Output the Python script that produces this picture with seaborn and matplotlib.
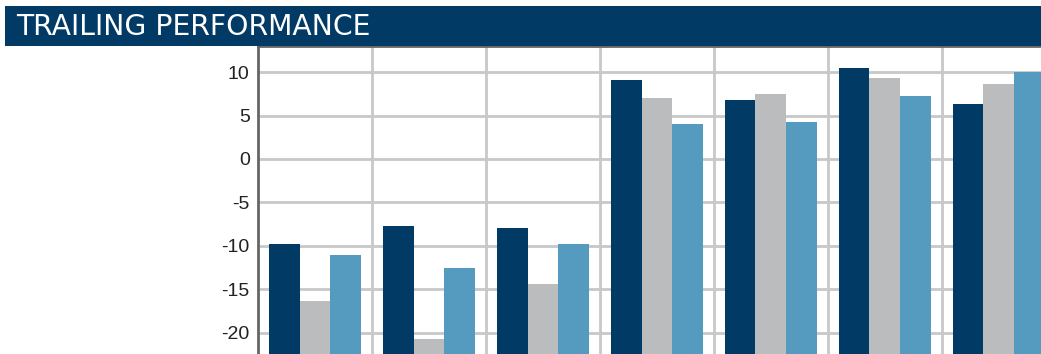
import numpy as np
import pandas as pd
import matplotlib
matplotlib.use("Agg")
import matplotlib.pyplot as plt
from matplotlib.patches import Rectangle
import seaborn as sns

# Trailing return periods and the three compared series (%)
periods = ["1 Month", "3 Month", "YTD", "1 Year", "3 Year", "5 Year", "10 Year"]
series = ["Fund", "Benchmark", "Category"]
fund = [-9.8, -7.7, -8.0, 9.1, 6.8, 10.5, 6.35]
benchmark = [-16.3, -20.7, -14.4, 7.0, 7.5, 9.35, 8.65]
category = [-11.0, -12.6, -9.8, 4.0, 4.3, 7.27, 10.04]
yticks = [10, 5, 0, -5, -10, -15, -20]

colors = ["#023a66", "#bbbcbe", "#559bc0"]

df = pd.DataFrame({
    "period": periods * 3,
    "series": [s for s in series for _ in periods],
    "value": fund + benchmark + category,
})

sns.set_theme(style="white")
plt.rcParams["font.family"] = ["Liberation Sans", "DejaVu Sans"]

fig = plt.figure(figsize=(10.41, 3.54), dpi=100)

# Header band
fig.patches.append(Rectangle((5 / 1041, 1 - 45.7 / 354), 1.0, 39.7 / 354,
                             transform=fig.transFigure, facecolor="#023a66",
                             edgecolor="none", zorder=0))
fig.text(16 / 1041, 1 - 27 / 354, "TRAILING PERFORMANCE", color="white",
         fontsize=20.3, family=["DejaVu Sans"], va="center", ha="left")

ax = fig.add_axes([258 / 1041, 0.0, 1 - 258 / 1041, (354 - 46) / 354])
sns.barplot(data=df, x="period", y="value", hue="series", palette=colors,
            width=0.81, gap=0, saturation=1, legend=False, ax=ax,
            linewidth=0, edgecolor="none", zorder=3)

ymin, ymax = -22.45, 13.0
# Bars rise from a floor below the visible range rather than from zero
floor = -40
for bar in ax.patches:
    top = bar.get_y() + bar.get_height()
    bar.set_y(floor)
    bar.set_height(top - floor)

ax.set_xlim(-0.5, 6.37)
ax.set_ylim(ymin, ymax)
ax.set_yticks(yticks)
ax.set_yticklabels([str(v) for v in yticks])
ax.set_xticks(np.arange(len(periods) - 1) + 0.5, minor=True)
ax.tick_params(axis="y", length=0, pad=6, labelsize=14, labelcolor="#222222")
ax.tick_params(axis="x", which="both", length=0, labelbottom=False)
ax.set_xlabel("")
ax.set_ylabel("")

ax.grid(axis="y", which="major", color="#c8c8c8", linewidth=2, zorder=0)
ax.grid(axis="x", which="minor", color="#c8c8c8", linewidth=2, zorder=0)
ax.set_axisbelow(True)

for side in ["right", "bottom"]:
    ax.spines[side].set_visible(False)
for side in ["left", "top"]:
    ax.spines[side].set_color("#666666")
    ax.spines[side].set_linewidth(2)

fig.savefig("out.png", dpi=100)
